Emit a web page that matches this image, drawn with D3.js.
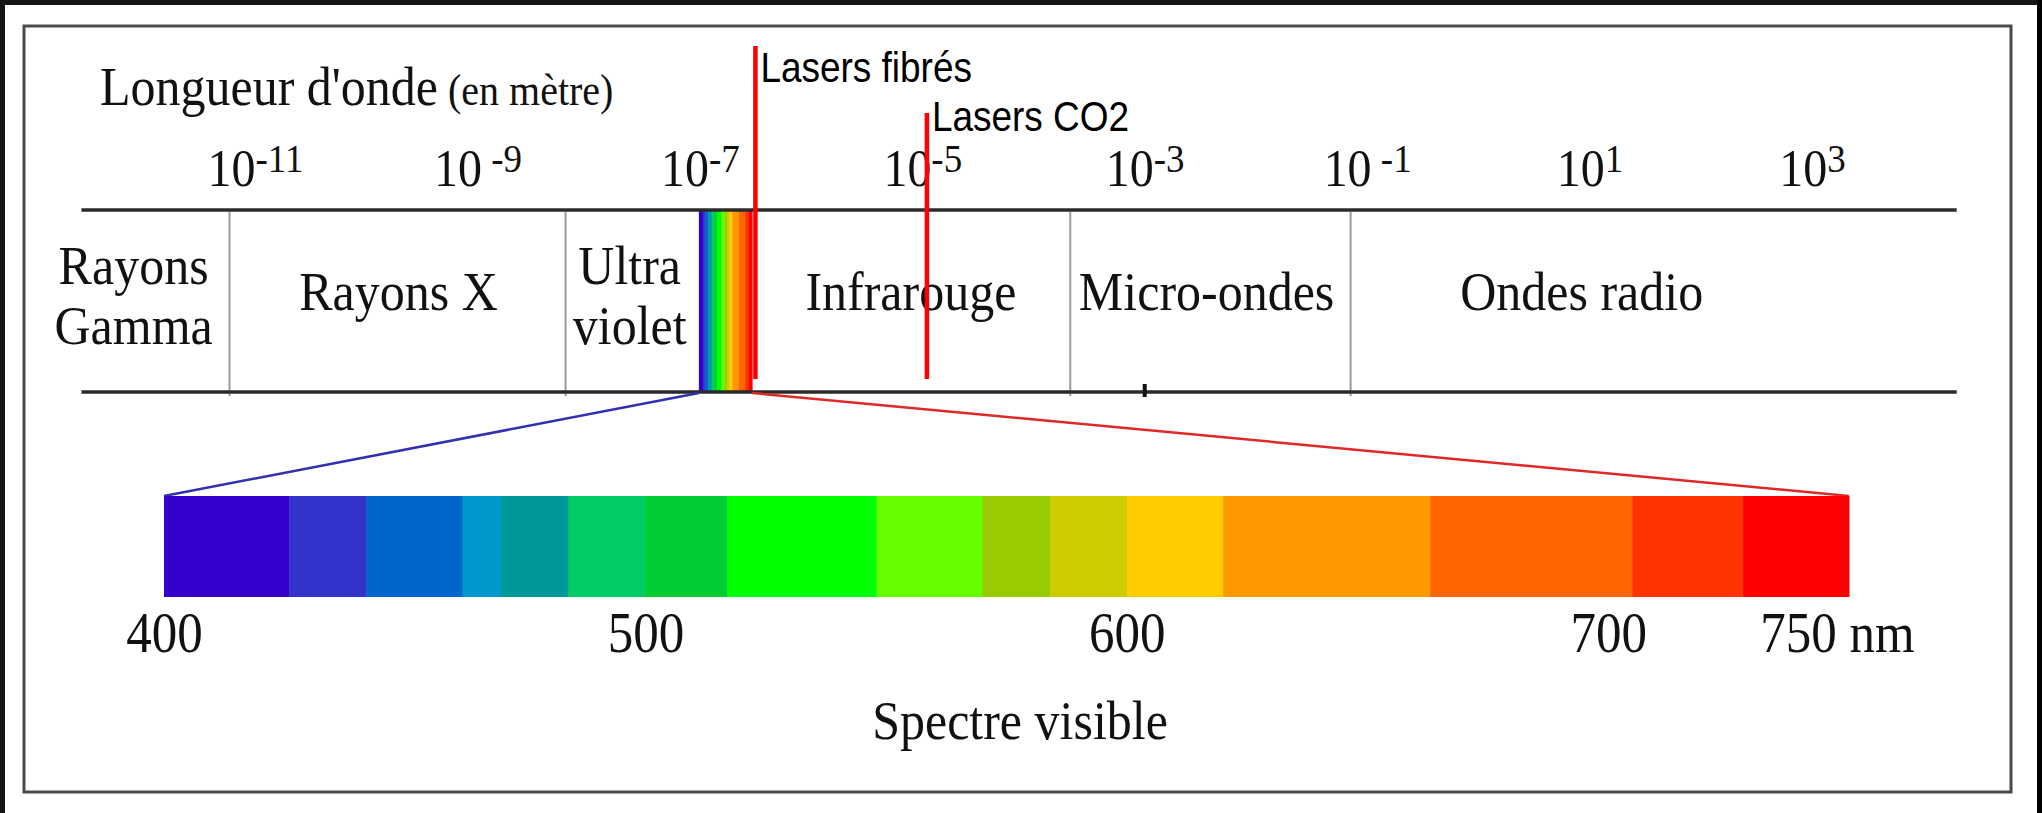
<!DOCTYPE html>
<html>
<head>
<meta charset="utf-8">
<script src="https://cdn.jsdelivr.net/npm/d3@7"></script>
<style>
  body { margin: 0; background: #151515; }
  svg { display: block; }
</style>
</head>
<body>
<div id="chart"></div>
<script>
// Wavelength ticks (metres) and the exponent shown for each
const tickValues = [1e-11, 1e-9, 1e-7, 1e-5, 1e-3, 1e-1, 1e1, 1e3];
const tickExponents = ["-11", " -9", "-7", "-5", "-3", " -1", "1", "3"];

// Domains of the spectrum, where their label sits, and the limits between them (metres)
const domainNames = [["Rayons", "Gamma"], ["Rayons X"], ["Ultra", "violet"], ["Infrarouge"], ["Micro-ondes"], ["Ondes radio"]];
const domainLabelAt = [8.1e-13, 1.95e-10, 2.34e-8, 7.9e-6, 3.6e-3, 8.5];
const domainLimits = [5.9e-12, 6.2e-9, 2.14e-4, 7.1e-2];
const visibleBand = [9.8e-8, 2.95e-7];
const axisExtent = [2.75e-13, 2.0e4];
const strayMarks = [1e-3];

// Lasers
const laserNames = ["Lasers fibrés", "Lasers CO2"];
const laserAt = [3.16e-7, 1.1e-5];

// Visible spectrum (nm)
const visibleStops = [400, 426, 442, 462, 470, 484, 500, 517, 548, 570, 584, 600, 620, 663, 705, 728, 750];
const visibleColors = ["#3300cc", "#3333cc", "#0066cc", "#0099cc", "#009999", "#00cc66", "#00cc33", "#00ff00",
    "#66ff00", "#99cc00", "#cccc00", "#ffcc00", "#ff9900", "#ff6600", "#ff3300", "#ff0000"];
const nmTicks = [400, 500, 600, 700, 750];
const nmLabels = ["400", "500", "600", "700", "750 nm"];

const width = 2042, height = 813;
const serif = '"Liberation Serif", "Times New Roman", serif';
const sans = '"Liberation Sans", Arial, sans-serif';
const stretch = 1.1; // the picture's text is a little taller than the font

const svg = d3.select('#chart').append('svg')
    .attr('width', width)
    .attr('height', height);

// frame
svg.append('rect').attr('width', width).attr('height', height).attr('fill', '#151515');
svg.append('rect').attr('x', 5).attr('y', 5).attr('width', 2032).attr('height', height - 5).attr('fill', '#fff');
svg.append('rect').attr('x', 2037).attr('y', 0).attr('width', 5).attr('height', height).attr('fill', '#000');
svg.append('rect').attr('x', 24).attr('y', 26).attr('width', 1987).attr('height', 766)
    .attr('fill', 'none').attr('stroke', '#4a4a4a').attr('stroke-width', 3);

//  log scale of wavelength
const x = d3.scaleLog().domain([1e-11, 1e3]).range([255, 1812]);
const bandTop = 210, bandBottom = 392;

// title
const title = svg.append('text')
    .attr('transform', 'translate(100,105) scale(1,' + stretch + ')')
    .attr('font-family', serif).attr('font-size', 50).attr('fill', '#111')
    .text("Longueur d'onde");
title.append('tspan').attr('font-size', 40).text(' (en mètre)');

// tick labels 10^n
const topAxis = svg.append('g')
    .attr('transform', 'translate(0,186)')
    .call(d3.axisTop(x).tickValues(tickValues).tickSize(0).tickPadding(0).tickFormat(() => ''));
topAxis.select('.domain').remove();
topAxis.attr('font-family', serif).attr('font-size', 48).attr('color', '#111');
topAxis.selectAll('.tick text')
    .attr('y', 0).attr('dy', 0)
    .attr('transform', 'scale(1,' + stretch + ')')
    .style('white-space', 'pre')
    .each(function (d, i) {
        const t = d3.select(this).text('10');
        t.append('tspan').attr('font-size', 37).attr('dy', -13).text(tickExponents[i]);
    });

// rainbow of the visible part inside the band
const xBand = d3.scaleLinear().domain([400, 750]).range([x(visibleBand[0]), x(visibleBand[1])]);
svg.append('g').selectAll('rect')
    .data(visibleColors)
    .join('rect')
    .attr('x', (d, i) => xBand(visibleStops[i]))
    .attr('width', (d, i) => xBand(visibleStops[i + 1]) - xBand(visibleStops[i]) + 0.5)
    .attr('y', bandTop)
    .attr('height', bandBottom - bandTop)
    .attr('fill', d => d);

// limits between domains
svg.append('g').selectAll('line')
    .data(domainLimits)
    .join('line')
    .attr('x1', d => x(d)).attr('x2', d => x(d))
    .attr('y1', bandTop + 2).attr('y2', bandBottom + 4)
    .attr('stroke', '#9a9a9a').attr('stroke-width', 2);

// band edges
svg.append('g').selectAll('line')
    .data([bandTop, bandBottom])
    .join('line')
    .attr('x1', x(axisExtent[0])).attr('x2', x(axisExtent[1]))
    .attr('y1', d => d).attr('y2', d => d)
    .attr('stroke', '#2a2a2a').attr('stroke-width', 3.5);

svg.append('g').selectAll('line')
    .data(strayMarks)
    .join('line')
    .attr('x1', d => x(d)).attr('x2', d => x(d))
    .attr('y1', bandBottom - 8).attr('y2', bandBottom + 5)
    .attr('stroke', '#111').attr('stroke-width', 4);

// domain names
const lineGap = 60 / stretch;
svg.append('g')
    .attr('font-family', serif).attr('font-size', 50).attr('fill', '#111').attr('text-anchor', 'middle')
    .selectAll('text')
    .data(domainNames)
    .join('text')
    .attr('transform', (d, i) => 'translate(' + x(domainLabelAt[i]) + ',' + (d.length > 1 ? 284 : 310) + ') scale(1,' + stretch + ')')
    .each(function (d) {
        const t = d3.select(this);
        d.forEach((line, j) => {
            t.append('tspan').attr('x', 0).attr('dy', j === 0 ? 0 : lineGap).text(line);
        });
    });

// lasers
const laserTop = [46, 113], laserBase = [82, 131];
const lasers = svg.append('g');
lasers.selectAll('line')
    .data(laserAt)
    .join('line')
    .attr('x1', d => x(d)).attr('x2', d => x(d))
    .attr('y1', (d, i) => laserTop[i]).attr('y2', 379)
    .attr('stroke', '#ff0000').attr('stroke-width', 4.5);
lasers.selectAll('text')
    .data(laserNames)
    .join('text')
    .attr('transform', (d, i) => 'translate(' + (x(laserAt[i]) + 5) + ',' + laserBase[i] + ') scale(0.88,1)')
    .attr('font-family', sans).attr('font-size', 42).attr('fill', '#000')
    .text(d => d);

// visible spectrum zoom
const nm = d3.scaleLinear().domain([400, 750]).range([164, 1849]);
const barTop = 496, barBottom = 597;

svg.append('line')
    .attr('x1', x(visibleBand[0])).attr('y1', bandBottom + 1)
    .attr('x2', nm(400)).attr('y2', barTop)
    .attr('stroke', '#3030b0').attr('stroke-width', 2.5);
svg.append('line')
    .attr('x1', x(visibleBand[1])).attr('y1', bandBottom + 1)
    .attr('x2', nm(750)).attr('y2', barTop)
    .attr('stroke', '#e02828').attr('stroke-width', 2.5);

svg.append('g').selectAll('rect')
    .data(visibleColors)
    .join('rect')
    .attr('x', (d, i) => nm(visibleStops[i]))
    .attr('width', (d, i) => nm(visibleStops[i + 1]) - nm(visibleStops[i]) + 0.5)
    .attr('y', barTop)
    .attr('height', barBottom - barTop)
    .attr('fill', d => d);

const nmAxis = svg.append('g')
    .attr('transform', 'translate(0,652)')
    .call(d3.axisBottom(nm).tickValues(nmTicks).tickSize(0).tickPadding(0).tickFormat((d, i) => nmLabels[i]));
nmAxis.select('.domain').remove();
nmAxis.attr('font-family', serif).attr('font-size', 51).attr('color', '#111');
nmAxis.selectAll('.tick text')
    .attr('y', 0).attr('dy', 0)
    .attr('dx', d => d === 750 ? -12 : 0)
    .attr('transform', 'scale(1,' + stretch + ')');

svg.append('text')
    .attr('transform', 'translate(1020,739) scale(1,' + stretch + ')')
    .attr('text-anchor', 'middle')
    .attr('font-family', serif).attr('font-size', 50).attr('fill', '#111')
    .text('Spectre visible');
</script>
</body>
</html>
